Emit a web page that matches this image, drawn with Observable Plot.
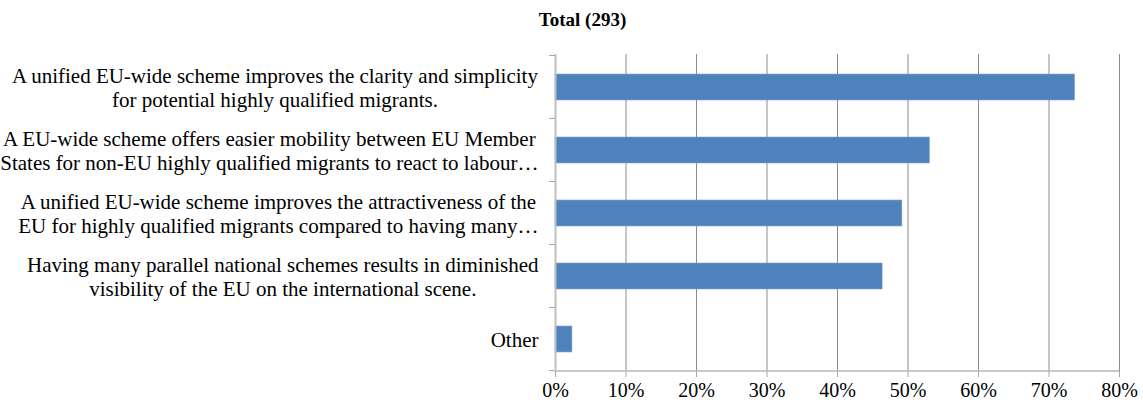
<!DOCTYPE html>
<html>
<head>
<meta charset="utf-8">
<script src="https://cdn.jsdelivr.net/npm/d3@7"></script>
<script src="https://cdn.jsdelivr.net/npm/@observablehq/plot@0.6"></script>
<style>
  html, body { margin: 0; padding: 0; background: #fff; }
  #title { width: 1143px; height: 40px; box-sizing: border-box; padding-left: 22px; text-align: center;
           font: bold 19px "Liberation Serif", "Times New Roman", serif; line-height: 40px; color: #000; }
  svg { display: block; }
  svg text { font-family: "Liberation Serif", "Times New Roman", serif; }
</style>
</head>
<body>
<div id="title">Total (293)</div>
<div id="chart"></div>
<script>
const categories = [
  "A unified EU-wide scheme improves the clarity and simplicity\nfor potential highly qualified migrants.",
  "A EU-wide scheme offers easier mobility between EU Member\nStates for non-EU highly qualified migrants to react to labour…",
  "A unified EU-wide scheme improves the attractiveness of the\nEU for highly qualified migrants compared to having many…",
  "Having many parallel national schemes results in diminished\nvisibility of the EU on the international scene.",
  "Other"
];
const values = [73.7, 53.1, 49.2, 46.4, 2.4];
const xTicks = [0, 10, 20, 30, 40, 50, 60, 70, 80];

const data = categories.map((c, i) => ({category: c, value: values[i]}));

const fontSize = 21;
const ctx = document.createElement("canvas").getContext("2d");
ctx.font = `${fontSize}px "Liberation Serif"`;
const widthOf = s => Math.max(...s.split("\n").map(l => ctx.measureText(l).width));
const labelGap = 17;

const boundaryMark = (index, scales, values, dims) => {
  const y = scales.y;
  const bw = typeof y.bandwidth === "function" ? y.bandwidth() : y.bandwidth;
  let step = typeof y.step === "function" ? y.step() : y.step;
  if (!step) step = y(categories[1]) - y(categories[0]);
  const g = d3.create("svg:g");
  const ml = dims.marginLeft;
  const pos = categories.map(c => y(c) + bw / 2 - step / 2);
  pos.push(pos[pos.length - 1] + step);
  pos.forEach(p => g.append("line")
    .attr("x1", ml - 6).attr("x2", ml).attr("y1", p).attr("y2", p)
    .attr("stroke", "#a6a6a6"));
  const yb = dims.height - dims.marginBottom;
  g.append("line")
    .attr("x1", ml - 1).attr("x2", dims.width - dims.marginRight)
    .attr("y1", yb).attr("y2", yb)
    .attr("stroke", "#c8c8c8").attr("stroke-width", 2);
  return g.node();
};

const chart = Plot.plot({
  width: 1143,
  height: 365,
  marginLeft: 555,
  marginRight: 24,
  marginTop: 14,
  marginBottom: 34,
  style: {fontFamily: "Liberation Serif, serif", color: "#000", background: "#fff"},
  x: {domain: [0, 80], axis: null, label: null},
  y: {domain: categories, paddingInner: 0.59, paddingOuter: 0.295, axis: null, label: null},
  marks: [
    Plot.gridX(xTicks.filter(t => t > 0), {stroke: "#8c8c8c", strokeOpacity: 1}),
    Plot.barX(data, {x: "value", y: "category", fill: "#4F81BD", stroke: "#7fa3d1", strokeWidth: 0.6}),
    Plot.ruleX([0], {stroke: "#c0c0c0", strokeWidth: 2}),
    boundaryMark,
    Plot.axisX({ticks: xTicks, tickFormat: d => d + "%", tickSize: 6, tickPadding: 5, stroke: "#a6a6a6", fill: "#000", fontSize: 20, label: null}),
    ...categories.map(c => Plot.text([c], {
      y: d => d,
      text: d => d,
      frameAnchor: "left",
      textAnchor: "middle",
      dx: -(labelGap + widthOf(c) / 2),
      fontSize,
      lineHeight: 1.15,
      fill: "#000"
    }))
  ]
});
document.getElementById("chart").appendChild(chart);
</script>
</body>
</html>
